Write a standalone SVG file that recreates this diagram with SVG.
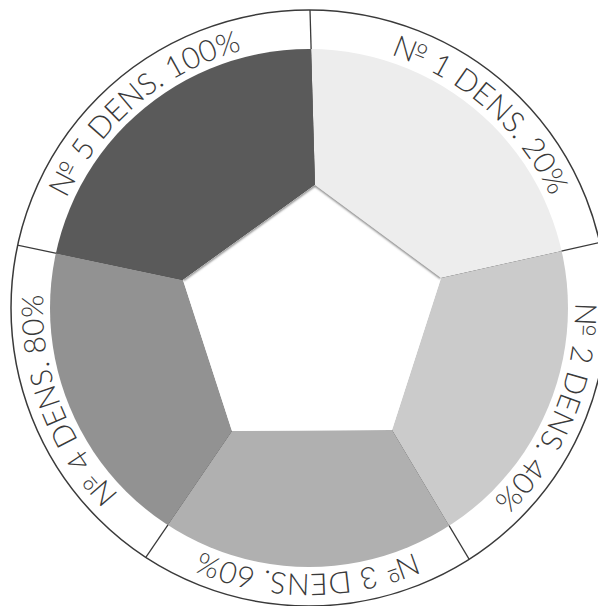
<svg xmlns="http://www.w3.org/2000/svg" width="598" height="606" viewBox="0 0 598 606">
<defs>
<style>
.lbl{font-family:Lato,'Open Sans','DejaVu Sans',sans-serif;font-weight:300;font-size:30px;fill:#3a3a3a}
.div{stroke:#3a3a3a;stroke-width:1.3;fill:none}
.rim{stroke:#3a3a3a;stroke-width:1.5;fill:none}
</style>
<clipPath id="disk"><circle cx="309" cy="308" r="259"/></clipPath>
<clipPath id="outer"><circle cx="309" cy="308" r="298"/></clipPath>
<clipPath id="pent"><polygon points="315,185 441,278 392,430 232,431 183,280"/></clipPath>
<filter id="blur" x="-10%" y="-10%" width="120%" height="120%"><feGaussianBlur stdDeviation="1.2"/></filter>
<path id="ring" d="M309,42 A266,266 0 1,1 309,574 A266,266 0 1,1 309,42"/>
</defs>
<rect width="598" height="606" fill="#fff"/>
<g id="connectors" clip-path="url(#outer)">
<line class="div" x1="315" y1="185" x2="305" y2="-165"/>
<line class="div" x1="441" y1="278" x2="759" y2="207"/>
<line class="div" x1="392" y1="430" x2="546" y2="688"/>
<line class="div" x1="232" y1="431" x2="56" y2="689"/>
<line class="div" x1="183" y1="280" x2="-149" y2="210"/>
</g>
<g clip-path="url(#disk)">
<g id="sector1"><polygon points="315,185 305,-165 759,207 441,278" fill="#ededed"/></g>
<g id="sector2"><polygon points="441,278 759,207 546,688 392,430" fill="#cbcbcb"/></g>
<g id="sector3"><polygon points="392,430 546,688 56,689 232,431" fill="#b0b0b0"/></g>
<g id="sector4"><polygon points="232,431 56,689 -149,210 183,280" fill="#929292"/></g>
<g id="sector5"><polygon points="183,280 -149,210 305,-165 315,185" fill="#5a5a5a"/></g>
</g>
<g id="center">
<polygon points="315,185 441,278 392,430 232,431 183,280" fill="#fff"/>
<polyline points="183,280 315,185 441,278" fill="none" stroke="#7a7a7a" stroke-width="2.5" filter="url(#blur)" clip-path="url(#pent)"/>
</g>
<circle class="rim" cx="309" cy="308" r="298"/>
<g id="label1"><text class="lbl"><textPath href="#ring" startOffset="11.53%" text-anchor="middle">№ 1 DENS. 20%</textPath></text></g>
<g id="label2"><text class="lbl"><textPath href="#ring" startOffset="31.25%" text-anchor="middle">№ 2 DENS. 40%</textPath></text></g>
<g id="label3"><text class="lbl"><textPath href="#ring" startOffset="50.07%" text-anchor="middle">№ 3 DENS. 60%</textPath></text></g>
<g id="label4"><text class="lbl"><textPath href="#ring" startOffset="69.22%" text-anchor="middle">№ 4 DENS. 80%</textPath></text></g>
<g id="label5"><text class="lbl"><textPath href="#ring" startOffset="88.83%" text-anchor="middle">№ 5 DENS. 100%</textPath></text></g>
</svg>
